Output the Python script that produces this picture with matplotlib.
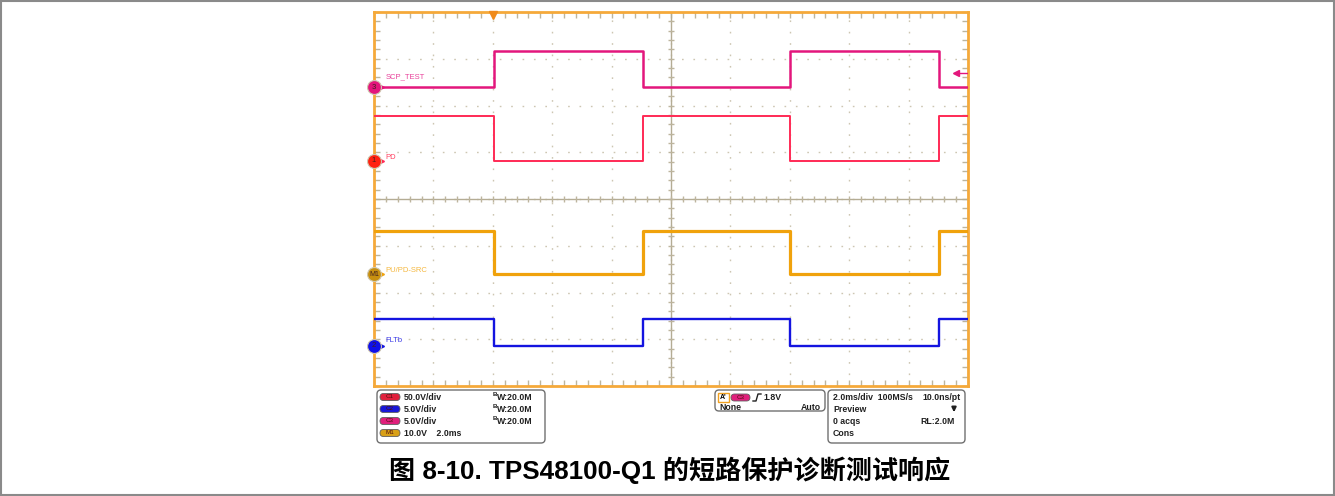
import matplotlib
matplotlib.use('Agg')
import matplotlib.pyplot as plt
from matplotlib.patches import FancyBboxPatch, Rectangle
from matplotlib.ticker import MultipleLocator

plt.rcParams['font.family'] = ['Liberation Sans', 'Noto Sans CJK SC', 'DejaVu Sans']

# scope settings (2 ms/div, 10 div; 8 vertical div)
t_span = 20.0  # ms
# edge times of the test pulses (ms)
edge_t = [0.0, 4.05, 9.05, 14.01, 19.01, 20.0]
# logic level of each interval (0 = low, 1 = high) for SCP_TEST
scp_state = [0, 1, 0, 1, 0]

# channel levels in volts (low, high) and scale V/div
names = ['SCP_TEST', 'PD', 'PU/PD-SRC', 'FLTb']
low_v = [0.0, 0.0, 0.0, 0.0]
high_v = [3.9, 48.0, 9.3, 2.9]
v_per_div = [5.0, 50.0, 10.0, 5.0]
inverted = [False, True, True, True]  # PD, SRC, FLTb go low while SCP_TEST high

# ground marker positions (div from centre) and look
offsets = [2.39, 0.82, -1.61, -3.14]
label_dy = [0.23, 0.07, 0.07, 0.12]
colors = ['#e3167c', '#ff2a55', '#f0a20c', '#1414e0']
widths = [1.8, 1.4, 2.3, 1.7]
badges = ['3', '1', 'M1', '2']
badge_cols = ['#e3167c', '#ff2010', '#c89010', '#1010e8']
label_cols = ['#e8409a', '#ff4060', '#f5b840', '#3a3ae8']

fig = plt.figure(figsize=(13.35, 4.96), dpi=100)
W, H = 1335, 496
x0, x1, y0, y1 = 374, 968, 12, 386
ax = fig.add_axes([x0 / W, 1 - y1 / H, (x1 - x0) / W, (y1 - y0) / H])
ax.set_xlim(0, t_span)
ax.set_ylim(-4, 4)

# grid
ax.xaxis.set_major_locator(MultipleLocator(2))
ax.yaxis.set_major_locator(MultipleLocator(1))
ax.xaxis.set_minor_locator(MultipleLocator(0.4))
ax.yaxis.set_minor_locator(MultipleLocator(0.2))
ax.grid(True, which='major', color='#cdc6b2', linestyle=(0, (1.2, 7)), linewidth=1.0)
ax.tick_params(which='both', direction='in', top=True, right=True, color='#bdb59e',
               labelbottom=False, labelleft=False)
ax.tick_params(which='major', length=4, width=1)
ax.tick_params(which='minor', length=4, width=1)
ax.axhline(0, color='#b4ac94', lw=1.0)
ax.axvline(10, color='#b4ac94', lw=1.0)
minor_x = [i * 0.4 for i in range(1, 50)]
minor_y = [i * 0.2 - 4 for i in range(1, 40)]
ax.plot(minor_x, [0] * len(minor_x), ls='none', marker='|', ms=5, color='#bdb59e', mew=1)
ax.plot([10] * len(minor_y), minor_y, ls='none', marker='_', ms=5, color='#bdb59e', mew=1)
for s in ax.spines.values():
    s.set_color('#f5a93a')
    s.set_linewidth(2)

# traces
for k in range(4):
    xs, ys = [], []
    for i in range(len(scp_state)):
        st = scp_state[i] if not inverted[k] else 1 - scp_state[i]
        v = high_v[k] if st else low_v[k]
        lvl = offsets[k] + v / v_per_div[k]
        xs += [edge_t[i], edge_t[i + 1]]
        ys += [lvl, lvl]
    ax.plot(xs, ys, color=colors[k], lw=widths[k], solid_joinstyle='round', zorder=3)
    # ground marker badge + arrow
    ax.plot([0.22], [offsets[k]], marker='>', ms=4, color=colors[k], clip_on=False, zorder=5)
    ax.plot([0, 0.22], [offsets[k]] * 2, color=colors[k], lw=1, clip_on=False, zorder=5)
    ax.plot([0], [offsets[k]], marker='o', ms=10, color=badge_cols[k], mec='#d0c8b0',
            mew=0.8, clip_on=False, zorder=6)
    ax.text(0, offsets[k], badges[k], fontsize=5.5 if len(badges[k]) == 1 else 5,
            color='#402020', ha='center', va='center', zorder=7, clip_on=False)
    ax.text(0.38, offsets[k] + label_dy[k], names[k], fontsize=5.5, color=label_cols[k],
            ha='left', va='center', zorder=7)

# trigger position marker and trigger level arrow
ax.plot([4.02], [3.93], marker='v', ms=6, color='#f08a1a', clip_on=False, zorder=6)
ax.plot([19.55, 19.97], [2.70, 2.70], color='#e3167c', lw=1, zorder=6)
ax.plot([19.6], [2.70], marker='<', ms=4.5, color='#e3167c', zorder=6)

# overlay in pixel coordinates for panel and caption
ov = fig.add_axes([0, 0, 1, 1])
ov.set_xlim(0, W)
ov.set_ylim(H, 0)
ov.axis('off')
ov.add_patch(Rectangle((1, 1), W - 2.5, H - 2.5, fill=False, ec='#8a8a8a', lw=1.5))


def box(x, y, w, h, ec='#707070', fc='white', r=4, lw=1.0):
    ov.add_patch(FancyBboxPatch((x, y), w, h, boxstyle='round,pad=0,rounding_size=%g' % r,
                                ec=ec, fc=fc, lw=lw))


def txt(x, y, s, size=6.3, color='#202020', ha='left'):
    ov.text(x, y, s, fontsize=size, fontweight='bold', color=color, ha=ha, va='center')


box(377, 390, 168, 53)
box(715, 390, 110, 21)
box(828, 390, 137, 53)

row_y = [397, 409, 421, 433]
pill_cols = ['#e0203c', '#1818d8', '#e0207c', '#d8a018']
pill_txt = ['C1', 'C2', 'C3', 'M1']
scales = ['50.0V/div', '5.0V/div', '5.0V/div', '10.0V    2.0ms']
for i in range(4):
    box(380, row_y[i] - 3.5, 20, 7, ec='#606060', fc=pill_cols[i], r=3.5, lw=0.6)
    ov.text(390, row_y[i], pill_txt[i], fontsize=4.5, color='#501010', ha='center', va='center')
    txt(404, row_y[i], scales[i])
    if i < 3:
        ov.text(493, row_y[i] - 2.5, 'B', fontsize=4.5, fontweight='bold', color='#202020', va='center')
        txt(497, row_y[i] + 0.5, 'W:20.0M')

# trigger box
ov.add_patch(Rectangle((718, 393), 11, 9, fill=False, ec='#f0a020', lw=1))
ov.text(723.5, 397.5, "A'", fontsize=5, fontweight='bold', ha='center', va='center')
box(731, 394, 19, 7, ec='#606060', fc='#e0207c', r=3.5, lw=0.6)
ov.text(740.5, 397.5, 'C3', fontsize=4.5, color='#501010', ha='center', va='center')
ov.plot([753, 756, 758, 761], [401, 401, 394, 394], color='#202020', lw=1)
txt(763, 397, '1.8V')
txt(719, 407, 'None')
txt(821, 407, 'Auto', ha='right')

# acquisition box
txt(833, 397, '2.0ms/div  100MS/s')
txt(961, 397, '10.0ns/pt', ha='right')
txt(833, 409, 'Preview')
ov.annotate('', xy=(954, 415), xytext=(954, 405),
            arrowprops=dict(arrowstyle='-|>', color='#202020', lw=1.5, mutation_scale=6))
txt(833, 421, '0 acqs')
txt(955, 421, 'RL:2.0M', ha='right')
txt(833, 434, 'Cons')

# caption
ov.text(670, 470, '图 8-10. TPS48100-Q1 的短路保护诊断测试响应', fontsize=18.8,
        fontweight='bold', color='black', ha='center', va='center')

fig.savefig('out.png', dpi=100)
